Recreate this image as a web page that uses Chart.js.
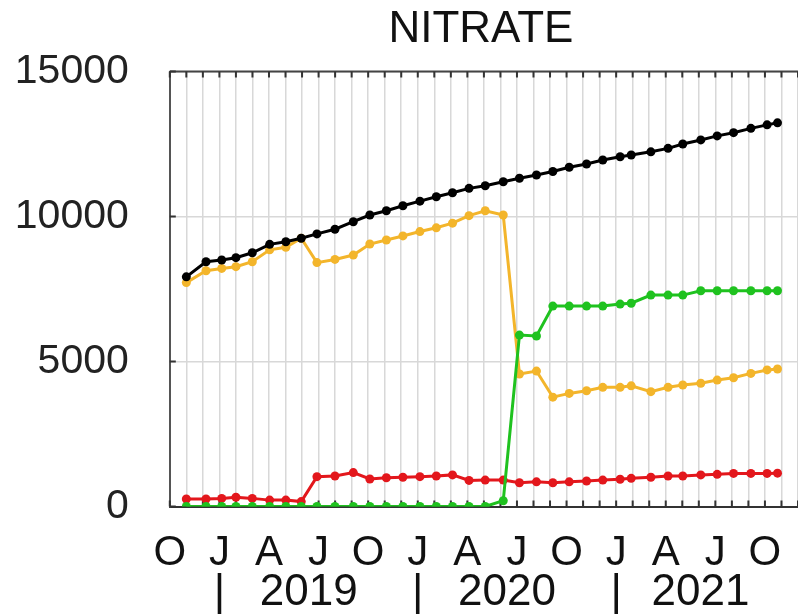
<!DOCTYPE html>
<html>
<head>
<meta charset="utf-8">
<script src="https://cdn.jsdelivr.net/npm/chart.js@4.4.1/dist/chart.umd.min.js"></script>
<style>
  html, body { margin: 0; padding: 0; background: #fff; overflow: hidden; }
  #wrap { width: 820px; height: 615px; }
</style>
</head>
<body>
<div id="wrap"><canvas id="nitrate" width="820" height="615"></canvas></div>
<script>
// Sample times, in months counted from 1 Oct 2018
const sampleMonths = [1.00, 2.19, 3.14, 4.00, 4.99, 6.04, 7.02, 7.95, 8.90, 9.99,
    11.1, 12.1, 13.1, 14.1, 15.13, 16.12, 17.10, 18.1, 19.08, 20.17,
    21.15, 22.18, 23.17, 24.16, 25.21, 26.19, 27.24, 27.91, 29.10, 30.14,
    31.03, 32.12, 33.11, 34.10, 35.15, 36.13, 36.76];

const totalSeries = [7920, 8440, 8500, 8580, 8750, 9040, 9130, 9250, 9400, 9560,
    9820, 10050, 10200, 10370, 10530, 10680, 10820, 10970, 11060, 11200,
    11320, 11430, 11550, 11700, 11810, 11950, 12060, 12120, 12230, 12350,
    12500, 12640, 12780, 12890, 13040, 13160, 13230];

const yellowSeries = [7720, 8130, 8210, 8270, 8440, 8850, 8940, 9250, 8410, 8520,
    8670, 9050, 9190, 9330, 9480, 9610, 9770, 10030, 10200, 10050,
    4570, 4670, 3770, 3900, 3990, 4110, 4110, 4160, 3960, 4110,
    4190, 4250, 4360, 4440, 4590, 4710, 4740];

const redSeries = [260, 260, 280, 320, 280, 220, 220, 170, 1030, 1050,
    1170, 950, 990, 1010, 1030, 1050, 1090, 900, 910, 910,
    820, 850, 820, 850, 880, 910, 940, 970, 1010, 1050,
    1050, 1090, 1110, 1140, 1140, 1140, 1150];

const greenSeries = [0, 0, 0, 0, 0, 0, 0, 0, 0, 0,
    0, 0, 0, 0, 0, 0, 0, 0, 0, 200,
    5910, 5880, 6910, 6910, 6910, 6910, 6980, 7010, 7290, 7290,
    7290, 7440, 7440, 7440, 7440, 7440, 7440];

// month grid 0..38, quarter letters starting at October
const monthTicks = Array.from({ length: 39 }, (_, i) => i);
const quarterLetters = ['O', 'J', 'A', 'J'];

const yearTickPos = [3, 8.4, 15, 20.4, 27, 32.1];
const yearTickText = ['|', '2019', '|', '2020', '|', '2021'];

const yTicks = [0, 5000, 10000, 15000];

const FONT = "'Liberation Sans', Arial, Helvetica, sans-serif";

function toPoints(vals) {
    return sampleMonths.map((m, i) => ({ x: m, y: vals[i] }));
}

function lineSet(vals, color) {
    return {
        data: toPoints(vals),
        borderColor: color,
        backgroundColor: color,
        borderWidth: 3,
        pointRadius: 4.5,
        pointBorderWidth: 0,
        pointHoverRadius: 4.5,
        tension: 0
    };
}

// top frame line plus the short inward tick marks
const frameTicks = {
    id: 'frameTicks',
    beforeDatasetsDraw(chart) {
        const { ctx, chartArea: a, scales } = chart;
        ctx.save();
        ctx.strokeStyle = '#444';
        ctx.lineWidth = 2;
        ctx.beginPath();
        ctx.moveTo(a.left, a.top);
        ctx.lineTo(a.right, a.top);
        ctx.stroke();

        ctx.strokeStyle = '#333';
        ctx.lineWidth = 2;
        ctx.beginPath();
        scales.x.ticks.forEach(t => {
            const px = scales.x.getPixelForValue(t.value);
            ctx.moveTo(px, a.top);
            ctx.lineTo(px, a.top + 6);
            ctx.moveTo(px, a.bottom);
            ctx.lineTo(px, a.bottom - 6);
        });
        scales.y.ticks.forEach(t => {
            const py = scales.y.getPixelForValue(t.value);
            ctx.moveTo(a.left, py);
            ctx.lineTo(a.left + 6, py);
        });
        ctx.stroke();
        ctx.restore();
    }
};

const plotTitle = {
    id: 'plotTitle',
    afterDraw(chart) {
        const { ctx, chartArea: a } = chart;
        ctx.save();
        ctx.fillStyle = '#111';
        ctx.font = '44px ' + FONT;
        ctx.textAlign = 'center';
        ctx.textBaseline = 'middle';
        ctx.fillText('NITRATE', (a.left + a.right) / 2 - 3, 30);
        ctx.restore();
    }
};

new Chart(document.getElementById('nitrate'), {
    type: 'line',
    data: {
        datasets: [
            lineSet(totalSeries, '#000000'),
            lineSet(greenSeries, '#1fc21f'),
            lineSet(redSeries, '#e3171c'),
            lineSet(yellowSeries, '#f3b52b')
        ]
    },
    options: {
        responsive: false,
        animation: false,
        layout: { padding: { top: 71.5, right: 9, left: 0, bottom: 0 } },
        plugins: { legend: { display: false }, tooltip: { enabled: false } },
        scales: {
            x: {
                type: 'linear',
                position: 'bottom',
                weight: 0,
                min: 0,
                max: 38,
                afterBuildTicks: s => { s.ticks = monthTicks.map(v => ({ value: v })); },
                afterFit: s => { s.height = 60; },
                grid: { color: '#d8d8d8', lineWidth: 1.5, drawTicks: false },
                border: { color: '#333', width: 2 },
                ticks: {
                    autoSkip: false,
                    maxRotation: 0,
                    padding: 22,
                    color: '#111',
                    font: { family: FONT, size: 42 },
                    callback: v => (v % 3 === 0 ? quarterLetters[(v / 3) % 4] : '')
                }
            },
            xYear: {
                type: 'linear',
                position: 'bottom',
                weight: 1,
                min: 0,
                max: 38,
                afterBuildTicks: s => { s.ticks = yearTickPos.map(v => ({ value: v })); },
                afterFit: s => { s.height = 48.5; },
                grid: { display: false, drawTicks: false },
                border: { display: false },
                ticks: {
                    autoSkip: false,
                    maxRotation: 0,
                    padding: 0,
                    color: '#111',
                    font: { family: FONT, size: 44 },
                    callback: (v, i) => yearTickText[i]
                }
            },
            y: {
                min: 0,
                max: 15000,
                afterBuildTicks: s => { s.ticks = yTicks.map(v => ({ value: v })); },
                afterFit: s => { s.width = 169.8; },
                grid: { color: '#d8d8d8', lineWidth: 1.5, drawTicks: false },
                border: { color: '#555', width: 2 },
                ticks: {
                    padding: 41,
                    color: '#222',
                    font: { family: FONT, size: 41 },
                    callback: v => String(v)
                }
            }
        }
    },
    plugins: [frameTicks, plotTitle]
});
</script>
</body>
</html>
